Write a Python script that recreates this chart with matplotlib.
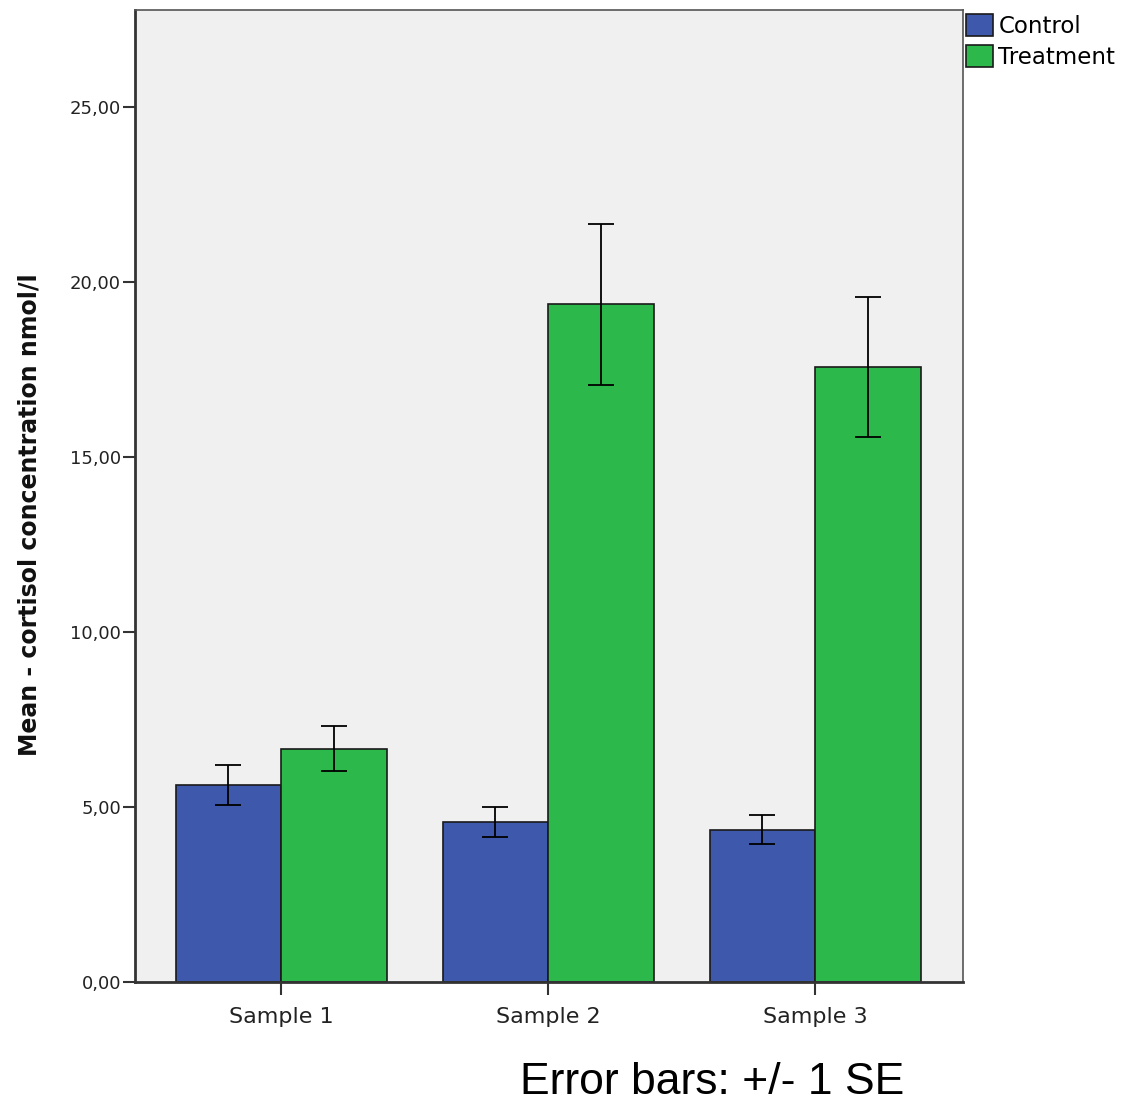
import numpy as np
import matplotlib
matplotlib.use("Agg")
import matplotlib.pyplot as plt

# Mean cortisol (nmol/l) and +/- 1 SE
samples = ['Sample 1', 'Sample 2', 'Sample 3']
groups = ['Control', 'Treatment']
control_mean = [5.63, 4.57, 4.35]
control_se = [0.58, 0.42, 0.41]
treat_mean = [6.66, 19.37, 17.58]
treat_se = [0.64, 2.30, 2.00]
yticks = [0, 5, 10, 15, 20, 25]

colors = ['#3E58AC', '#2DB84B']
width = 0.395

fig = plt.figure(figsize=(11.25, 11.03), dpi=100)
ax = fig.add_axes([135/1125, 1 - 982/1103, (963-135)/1125, (982-10)/1103])
ax.set_facecolor('#F0F0F0')

x = np.arange(len(samples))
for k, (means, ses) in enumerate([(control_mean, control_se), (treat_mean, treat_se)]):
  pos = x + (k - 0.5) * width
  ax.bar(pos, means, width, color=colors[k], edgecolor='#1a1a1a', linewidth=1.2,
         label=groups[k], zorder=2)
  ax.errorbar(pos, means, yerr=ses, fmt='none', ecolor='black', elinewidth=1.3,
              capsize=9.5, capthick=1.3, zorder=3)

ax.set_xlim(-0.547, 2.554)
ax.set_ylim(0, 27.77)
ax.set_yticks(yticks)
ax.set_yticklabels([('%.2f' % v).replace('.', ',') for v in yticks])
ax.set_xticks(x)
ax.set_xticklabels(samples)
ax.tick_params(axis='y', direction='out', length=9, width=1.5, color='#333333',
               labelsize=13, labelcolor='#222222', pad=1)
ax.tick_params(axis='x', direction='out', length=9, width=1.5, color='#333333',
               labelsize=16, labelcolor='#222222', pad=9)
for s in ['left', 'bottom']:
  ax.spines[s].set_linewidth(2)
  ax.spines[s].set_color('#333333')
for s in ['top', 'right']:
  ax.spines[s].set_linewidth(1.2)
  ax.spines[s].set_color('#555555')

fig.text(30/1125, 1 - 515/1103, 'Mean - cortisol concentration nmol/l', rotation=90,
         ha='center', va='center', fontsize=17, fontweight='bold', color='#111111')

leg = ax.legend(loc='upper left', bbox_to_anchor=(0.99, 1.008), frameon=False,
                fontsize=16.5, handlelength=1.15, handleheight=1.15, handletextpad=0.25,
                labelspacing=0.3, borderaxespad=0.1)

fig.text(712/1125, 1 - 1082/1103, 'Error bars: +/- 1 SE', ha='center', va='center',
         fontsize=32, family='Liberation Sans', color='black')

fig.savefig('out.png', dpi=100)
